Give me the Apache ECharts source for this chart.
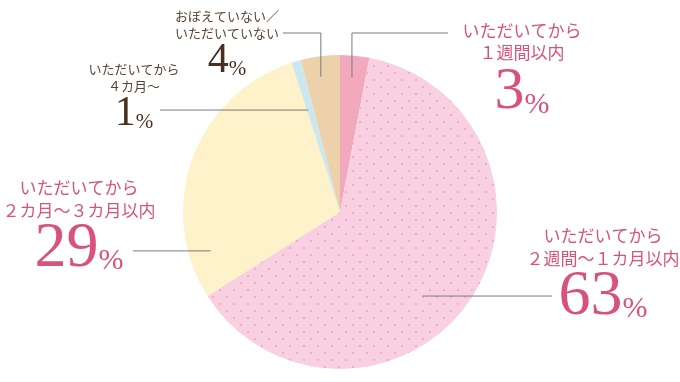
<!DOCTYPE html>
<html>
<head>
<meta charset="utf-8">
<script src="https://cdn.jsdelivr.net/npm/echarts@6/dist/echarts.min.js"></script>
<style>
html,body{margin:0;padding:0;background:#fff;}
#main{width:680px;height:382px;}
</style>
</head>
<body>
<div id="main"></div>
<script>
// ---- data ----
const categories = [
  'いただいてから\n１週間以内',
  'いただいてから\n２週間〜１カ月以内',
  'いただいてから\n２カ月〜３カ月以内',
  'いただいてから\n４カ月〜',
  'おぼえていない／\nいただいていない'
];
const values = [3, 63, 29, 1, 4];

// ---- layout / style (not data) ----
const labelPos = [[522, 20], [603, 224], [79, 176], [134, 60], [227, 7]];
const labelEndX = [448, 552, 133, 160, 283];
const anchorT = [0.47, 0.55, 0.15, 0.2, 0.44];
const anchorR = [0.86, 0.75, 0.86, 0.68, 0.87];
const elbow = [true, false, false, false, true];
const elbowY = 33;
const labelKind = ['M', 'L', 'L', 'S', 'S'];

const PINK = '#d9527b', BROWN = '#5a4431', NUMBROWN = '#4a3020';
const CJK = '"Noto Sans CJK JP", sans-serif';
const SERIF = '"Liberation Serif", serif';

function dotPattern() {
  const c = document.createElement('canvas');
  c.width = 14; c.height = 14;
  const g = c.getContext('2d');
  g.fillStyle = '#f9d0e1';
  g.fillRect(0, 0, 14, 14);
  g.fillStyle = '#eea3c2';
  [[3, 3], [10, 10]].forEach(p => { g.beginPath(); g.arc(p[0], p[1], 1.1, 0, Math.PI * 2); g.fill(); });
  return c;
}

const colors = ['#f2a9be', {image: dotPattern(), repeat: 'repeat'}, '#fdf2c9', '#cbe7ef', '#edd1aa'];

const chart = echarts.init(document.getElementById('main'), null, {renderer: 'canvas'});

const rich = {
  tM: {fontFamily: CJK, fontSize: 17, color: PINK, lineHeight: 22},
  nM: {fontFamily: SERIF, fontSize: 60, color: PINK, lineHeight: 56},
  pM: {fontFamily: SERIF, fontSize: 30, color: PINK, lineHeight: 36, verticalAlign: 'bottom'},
  tL: {fontFamily: CJK, fontSize: 17, color: PINK, lineHeight: 23},
  nL: {fontFamily: SERIF, fontSize: 64, color: PINK, lineHeight: 54},
  pL: {fontFamily: SERIF, fontSize: 30, color: PINK, lineHeight: 36, verticalAlign: 'bottom'},
  tS: {fontFamily: CJK, fontSize: 13, color: BROWN, lineHeight: 17.5},
  nS: {fontFamily: SERIF, fontSize: 42, color: NUMBROWN, lineHeight: 38},
  pS: {fontFamily: SERIF, fontSize: 21, color: NUMBROWN, lineHeight: 26, verticalAlign: 'bottom'}
};

const pieBase = {
  type: 'pie',
  center: [340, 212],
  radius: 157,
  startAngle: 90,
  clockwise: true,
  avoidLabelOverlap: false,
  silent: true
};

chart.setOption({
  animation: false,
  series: [
    Object.assign({}, pieBase, {
      z: 2,
      data: categories.map((name, i) => ({name: name, value: values[i], itemStyle: {color: colors[i]}})),
      itemStyle: {borderWidth: 0},
      label: {show: false},
      labelLine: {show: false}
    }),
    Object.assign({}, pieBase, {
      z: 5,
      data: categories.map((name, i) => ({name: name, value: values[i]})),
      itemStyle: {color: 'rgba(0,0,0,0)', borderWidth: 0},
      label: {
        show: true,
        position: 'outside',
        align: 'center',
        formatter: function (p) {
          const k = labelKind[p.dataIndex];
          const lines = p.name.split('\n');
          return lines.map(l => '{t' + k + '|' + l + '}').join('\n') +
            '\n{n' + k + '|' + p.value + '}{p' + k + '|%}';
        },
        rich: rich
      },
      labelLine: {show: true, lineStyle: {color: '#7a7a7a', width: 1}},
      labelLayout: function (params) {
        const i = params.dataIndex;
        const lay = chart.getModel().getSeriesByIndex(params.seriesIndex).getData().getItemLayout(i);
        const a = lay.startAngle + anchorT[i] * (lay.endAngle - lay.startAngle);
        const ax = lay.cx + lay.r * anchorR[i] * Math.cos(a);
        const ay = lay.cy + lay.r * anchorR[i] * Math.sin(a);
        const pts = elbow[i]
          ? [[ax, ay], [ax, elbowY], [labelEndX[i], elbowY]]
          : [[ax, ay], [labelEndX[i], ay]];
        return {
          x: labelPos[i][0],
          y: labelPos[i][1],
          align: 'center',
          verticalAlign: 'top',
          labelLinePoints: pts,
          hideOverlap: false
        };
      }
    })
  ]
});
</script>
</body>
</html>
